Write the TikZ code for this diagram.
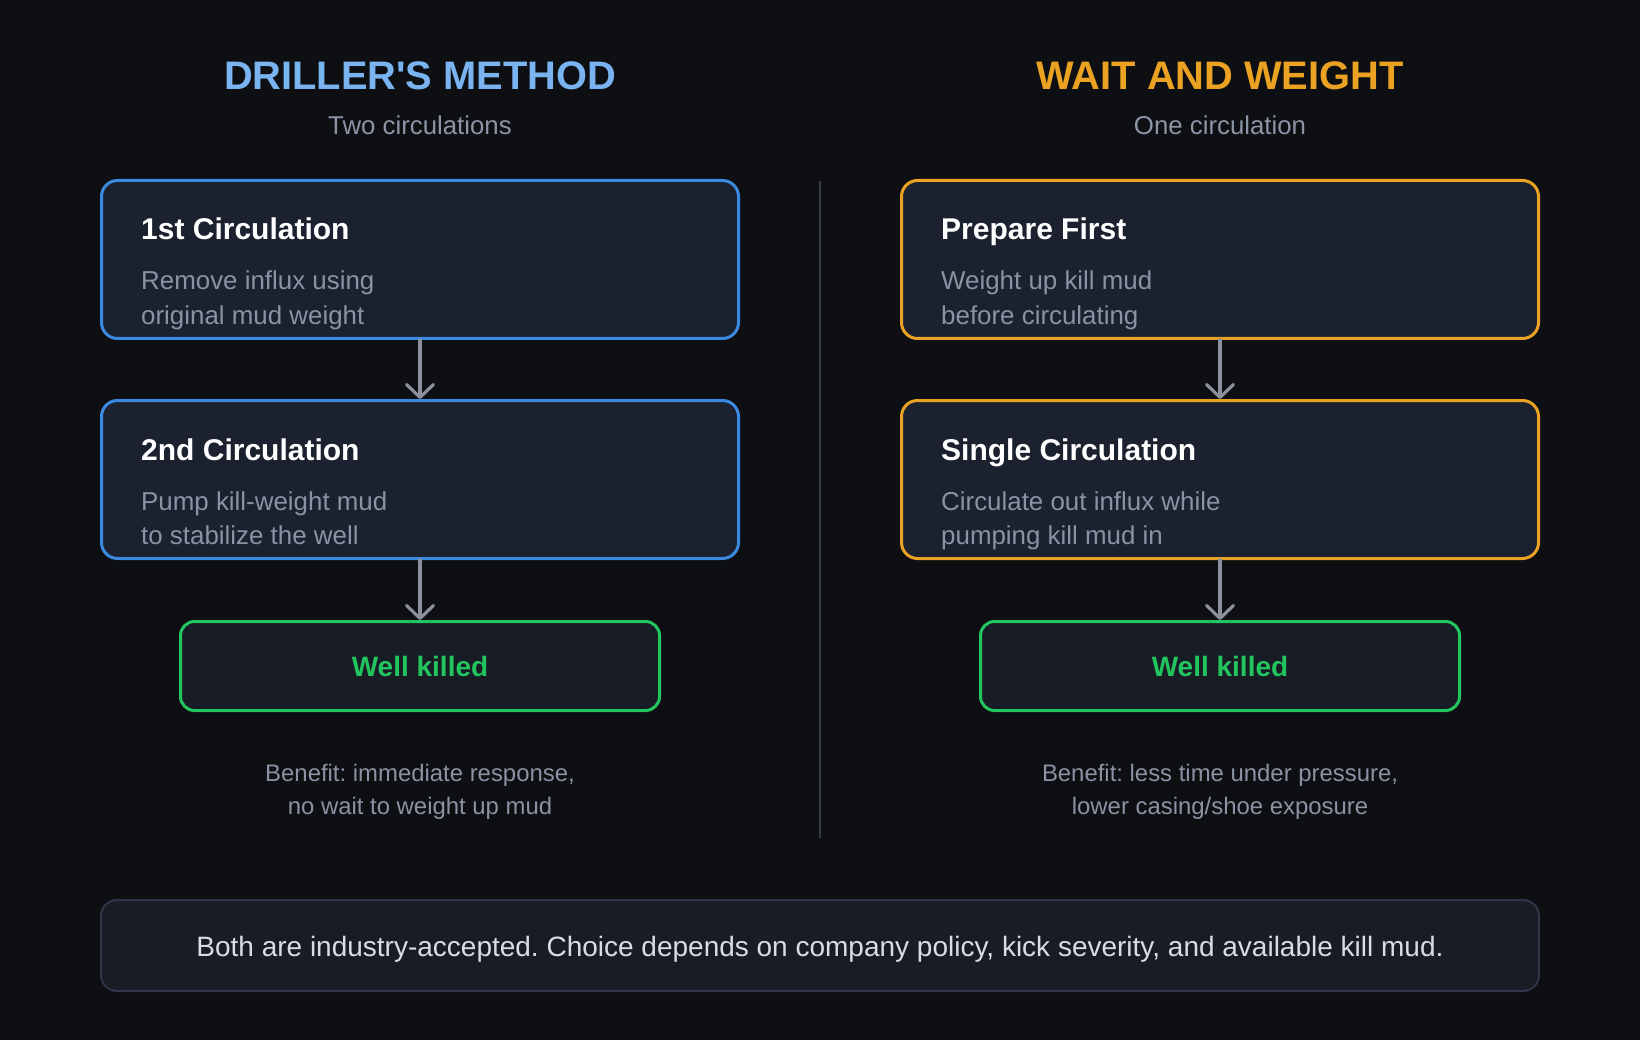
\documentclass[tikz,border=0pt]{standalone}
\usepackage{fontspec}
\setmainfont{Liberation Sans}
\usetikzlibrary{arrows.meta}
\frenchspacing
\definecolor{bg}{HTML}{0D0F12}
\definecolor{boxfill}{HTML}{1C2130}
\definecolor{blueline}{HTML}{3B8AE0}
\definecolor{orangeline}{HTML}{E9A224}
\definecolor{greenline}{HTML}{22C55E}
\definecolor{titleblue}{HTML}{7AB4F0}
\definecolor{titleorange}{HTML}{EBA222}
\definecolor{subgray}{HTML}{8B95A5}
\definecolor{bodygray}{HTML}{8A93A3}
\definecolor{arrowgray}{HTML}{8B909C}
\definecolor{footfill}{HTML}{181C25}
\definecolor{footline}{HTML}{2E3648}
\definecolor{foottext}{HTML}{D6DDE8}
\definecolor{divider}{HTML}{363B47}
\definecolor{greenfill}{HTML}{181C25}
\tikzset{
  stepbox/.style={draw, line width=3pt, fill=boxfill, rounded corners=16pt,
    minimum width=637pt, minimum height=158pt, inner sep=0pt},
  bluebox/.style={stepbox, draw=blueline},
  orangebox/.style={stepbox, draw=orangeline},
  killbox/.style={draw=greenline, line width=3pt, fill=greenfill, rounded corners=14pt,
    minimum width=479pt, minimum height=89pt, inner sep=0pt},
  headtext/.style={anchor=base west, inner sep=0pt, text=white, font=\fontsize{30}{34}\selectfont\bfseries},
  bodytext/.style={anchor=base west, inner sep=0pt, text=bodygray, font=\fontsize{25.9}{34}\selectfont},
  killtext/.style={anchor=base, inner sep=0pt, text=greenline, font=\fontsize{28}{32}\selectfont\bfseries},
  titletext/.style={anchor=base, inner sep=0pt, font=\fontsize{39.8}{44}\selectfont\bfseries},
  subtext/.style={anchor=base, inner sep=0pt, text=subgray, font=\fontsize{25.8}{30}\selectfont},
  benefittext/.style={anchor=base, inner sep=0pt, text=bodygray, font=\fontsize{23.9}{30}\selectfont},
  flowarrow/.style={draw=arrowgray, line width=3.2pt, line cap=round,
    -{Straight Barb[length=13pt, width=27pt, line width=3.2pt, round]}},
}
\begin{document}
\begin{tikzpicture}[x=1pt, y=-1pt]
\fill[bg] (0,0) rectangle (1640,1040);
\useasboundingbox (0,0) rectangle (1640,1040);

% titles
\node[titletext, text=titleblue] (t1) at (420,90) {DRILLER\textquotesingle S METHOD};
\node[subtext] (s1) at (420,135) {Two circulations};
\node[titletext, text=titleorange] (t2) at (1220,90) {WAIT AND WEIGHT};
\node[subtext] (s2) at (1220,135) {One circulation};

% divider
\coordinate (d1) at (820,181);
\coordinate (d2) at (820,838);
\draw[divider, line width=2.5pt] (d1) -- (d2);

% left column
\node[bluebox] (l1) at (420,259.5) {};
\node[headtext] (l1h) at (141,240) {1st Circulation};
\node[bodytext] (l1a) at (141,290) {Remove influx using};
\node[bodytext] (l1b) at (141,324) {original mud weight};

\node[bluebox] (l2) at (420,479.5) {};
\node[headtext] (l2h) at (141,460) {2nd Circulation};
\node[bodytext] (l2a) at (141,510) {Pump kill-weight mud};
\node[bodytext] (l2b) at (141,544) {to stabilize the well};

\node[killbox] (l3) at (420,666) {};
\node[killtext] (l3t) at (420,676) {Well killed};

\draw[flowarrow] (l1.south) -- (l2.north);
\draw[flowarrow] (l2.south) -- (l3.north);

\node[benefittext] (lb1) at (420,781) {Benefit: immediate response,};
\node[benefittext] (lb2) at (420,814) {no wait to weight up mud};

% right column
\node[orangebox] (r1) at (1220,259.5) {};
\node[headtext] (r1h) at (941,240) {Prepare First};
\node[bodytext] (r1a) at (941,290) {Weight up kill mud};
\node[bodytext] (r1b) at (941,324) {before circulating};

\node[orangebox] (r2) at (1220,479.5) {};
\node[headtext] (r2h) at (941,460) {Single Circulation};
\node[bodytext] (r2a) at (941,510) {Circulate out influx while};
\node[bodytext] (r2b) at (941,544) {pumping kill mud in};

\node[killbox] (r3) at (1220,666) {};
\node[killtext] (r3t) at (1220,676) {Well killed};

\draw[flowarrow] (r1.south) -- (r2.north);
\draw[flowarrow] (r2.south) -- (r3.north);

\node[benefittext] (rb1) at (1220,781) {Benefit: less time under pressure,};
\node[benefittext] (rb2) at (1220,814) {lower casing/shoe exposure};

% footer
\node[draw=footline, line width=2pt, fill=footfill, rounded corners=16pt,
  minimum width=1438pt, minimum height=91pt, inner sep=0pt] (foot) at (820,945.5) {};
\node[anchor=base, inner sep=0pt, text=foottext, font=\fontsize{28}{32}\selectfont] (foott) at (820,956)
  {Both are industry-accepted. Choice depends on company policy, kick severity, and available kill mud.};
\end{tikzpicture}
\end{document}
